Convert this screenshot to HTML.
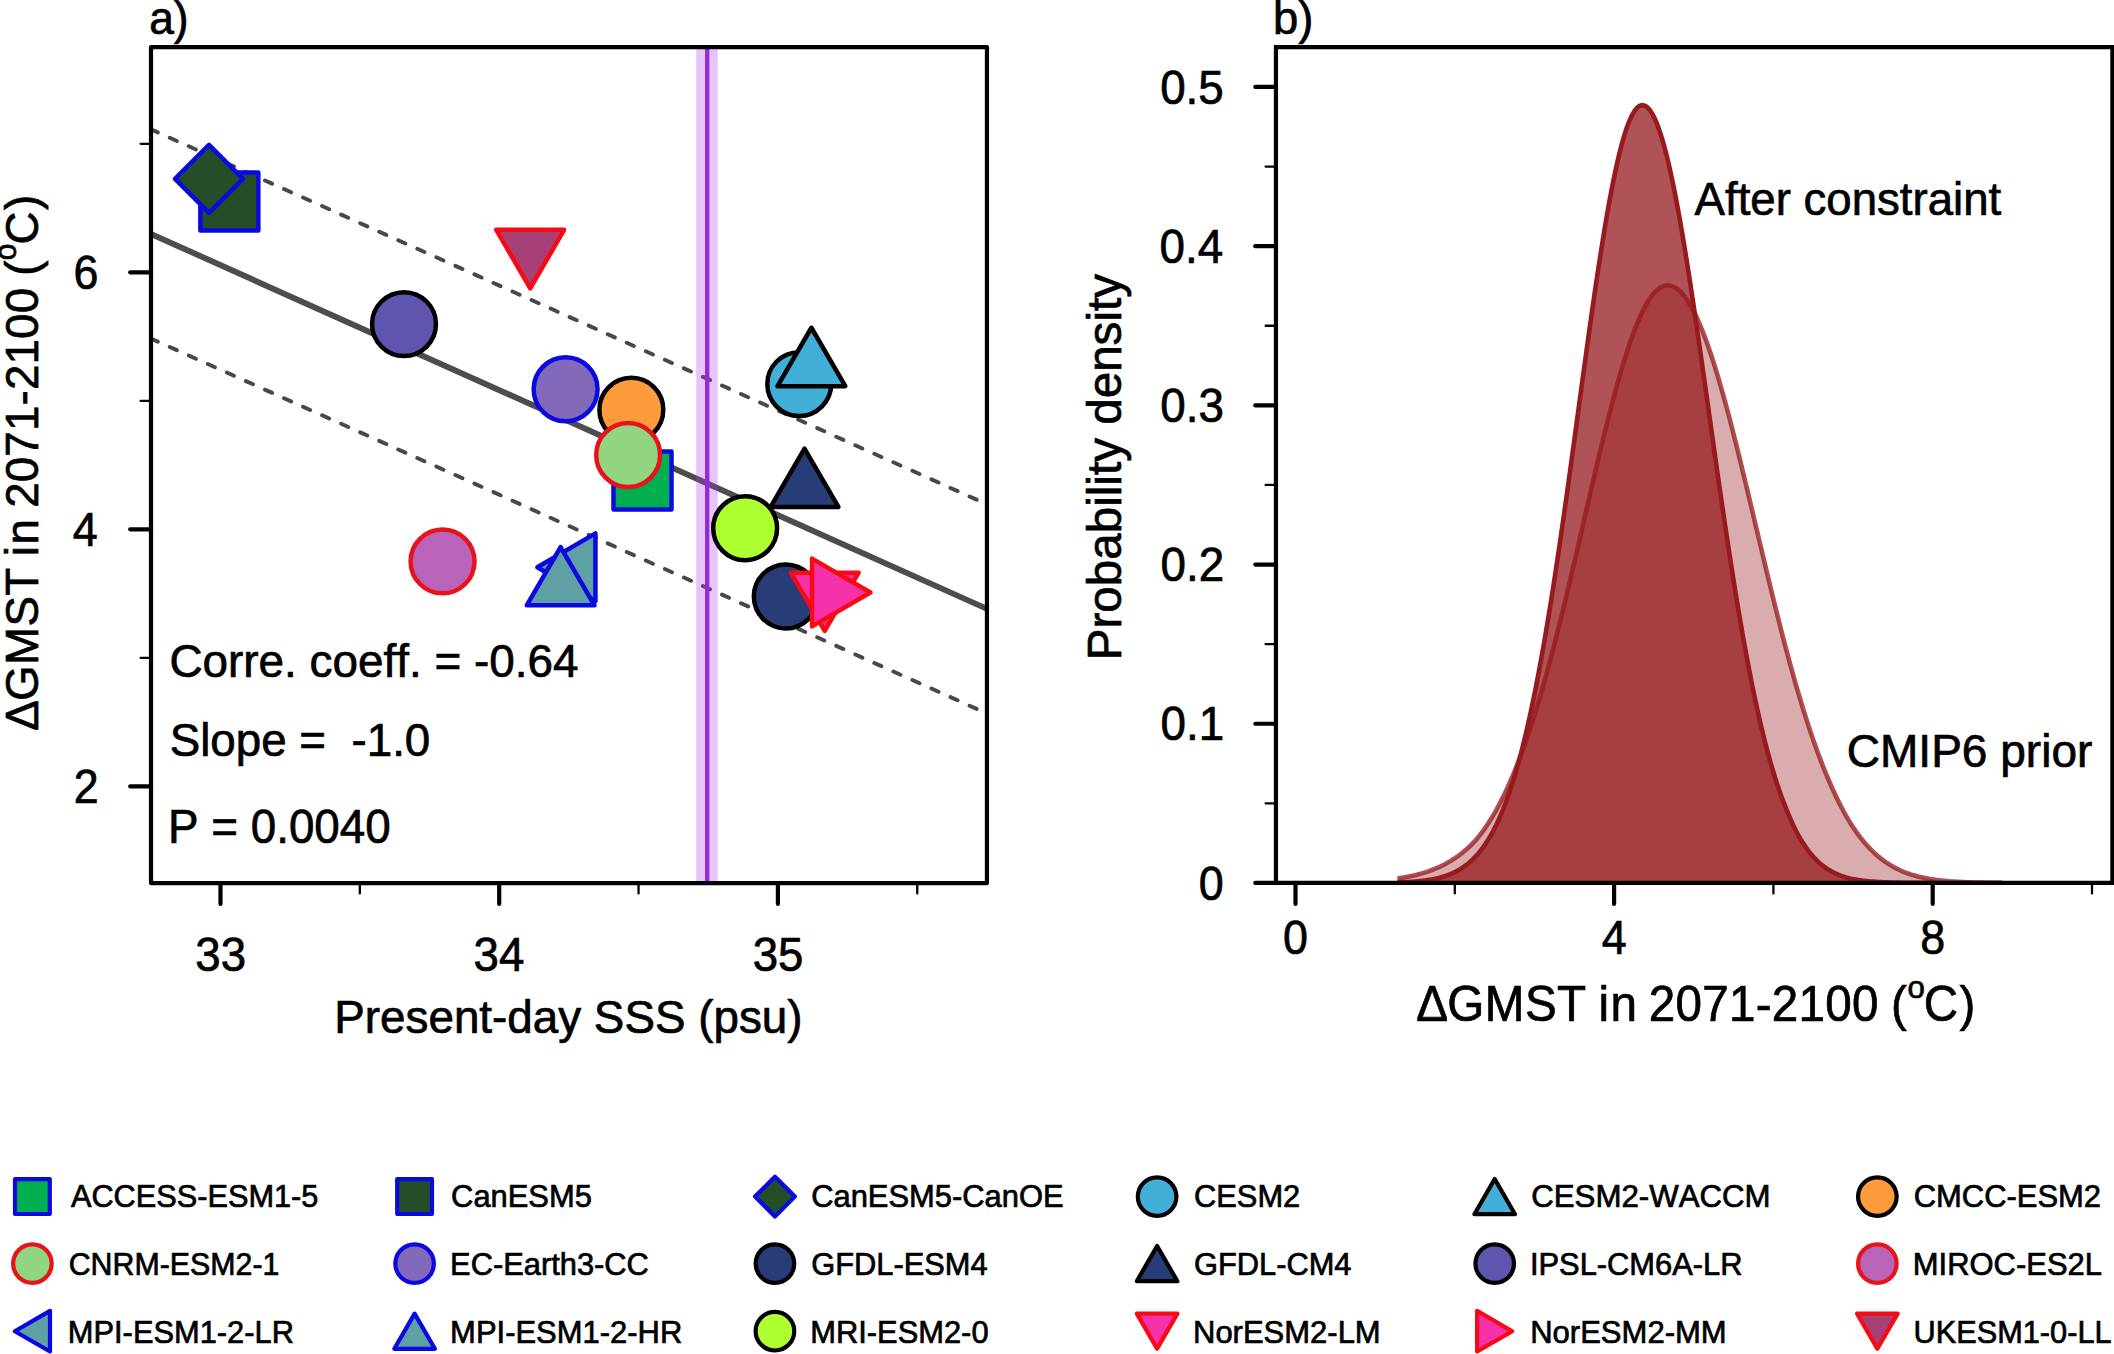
<!DOCTYPE html>
<html lang="en"><head><meta charset="utf-8"><title>Emergent constraint figure</title>
<style>html,body{margin:0;padding:0;background:#fff;}svg{display:block;}text{font-family:"Liberation Sans", sans-serif;fill:#000;font-kerning:none;stroke:#000;stroke-width:0.7px;}</style></head><body>
<svg width="2114" height="1354" viewBox="0 0 2114 1354">
<rect x="0" y="0" width="2114" height="1354" fill="#ffffff"/>
<g id="panel-a">
<clipPath id="clipA"><rect x="151" y="47.1" width="835.95" height="835.95"/></clipPath>
<g clip-path="url(#clipA)">
<line x1="150.7" y1="129.21" x2="984" y2="502.95" stroke="#484848" stroke-width="3.9" stroke-dasharray="7.8 13.07" stroke-linecap="round"/>
<line x1="150.7" y1="338.41" x2="984" y2="712.15" stroke="#484848" stroke-width="3.9" stroke-dasharray="7.8 13.07" stroke-linecap="round"/>
<line x1="146" y1="231.71" x2="991.95" y2="611.11" stroke="#4d4d4d" stroke-width="5.9"/>
</g>
<rect x="696.2" y="47.1" width="21.5" height="835.95" fill="#aa3cf0" fill-opacity="0.30"/>
<line x1="707.2" y1="47.1" x2="707.2" y2="883.05" stroke="#9628dc" stroke-width="4.3"/>
<polygon points="200.35,172.55 258.35,172.55 258.35,230.55 200.35,230.55" fill="#244d28" stroke="#0a0ae0" stroke-width="4.5" stroke-linejoin="round"/>
<polygon points="209,144.95 243,178.95 209,212.95 175,178.95" fill="#244d28" stroke="#0a0ae0" stroke-width="4.5" stroke-linejoin="round"/>
<polygon points="496.3,229.8 564.1,229.8 530.2,288.35" fill="#a84078" stroke="#f80a14" stroke-width="4.5" stroke-linejoin="round"/>
<circle cx="404" cy="324.1" r="31.95" fill="#5f55af" stroke="#000000" stroke-width="4.5"/>
<circle cx="565.6" cy="389.2" r="31.95" fill="#8269b9" stroke="#0a0ae0" stroke-width="4.5"/>
<circle cx="631.35" cy="409.8" r="31.95" fill="#ff9b3c" stroke="#000000" stroke-width="4.5"/>
<polygon points="613.5,451.5 671.5,451.5 671.5,509.5 613.5,509.5" fill="#00af50" stroke="#0a0ae0" stroke-width="4.5" stroke-linejoin="round"/>
<circle cx="628.15" cy="455" r="31.95" fill="#91d482" stroke="#e8121c" stroke-width="4.5"/>
<circle cx="799.25" cy="384.1" r="31.95" fill="#41afd7" stroke="#000000" stroke-width="4.5"/>
<polygon points="811.4,327.75 845.3,386.15 777.5,386.15" fill="#41afd7" stroke="#000000" stroke-width="4.5" stroke-linejoin="round"/>
<polygon points="804.5,448.65 838.4,506.95 770.6,506.95" fill="#283c78" stroke="#000000" stroke-width="4.5" stroke-linejoin="round"/>
<circle cx="745.15" cy="528.2" r="31.95" fill="#adff2f" stroke="#000000" stroke-width="4.5"/>
<circle cx="785.8" cy="596.45" r="31.95" fill="#283c78" stroke="#000000" stroke-width="4.5"/>
<polygon points="790.8,572.65 858.6,572.65 824.7,630.75" fill="#f532aa" stroke="#f80a14" stroke-width="4.5" stroke-linejoin="round"/>
<polygon points="870.45,592.5 812.05,558.6 812.05,626.4" fill="#f532aa" stroke="#f80a14" stroke-width="4.5" stroke-linejoin="round"/>
<circle cx="442.55" cy="561.4" r="31.95" fill="#b964b9" stroke="#e8121c" stroke-width="4.5"/>
<polygon points="537.35,567.3 595.45,533.4 595.45,601.2" fill="#5fa0a4" stroke="#0a0ae0" stroke-width="4.5" stroke-linejoin="round"/>
<polygon points="560.6,547.05 594.5,605.35 526.7,605.35" fill="#5fa0a4" stroke="#0a0ae0" stroke-width="4.5" stroke-linejoin="round"/>
<text transform="translate(169.41 677.2) scale(0.9974 1.0200)" font-size="46">Corre. coeff. = -0.64</text>
<text transform="translate(169.65 755.8) scale(0.9946 1.0200)" font-size="46">Slope =  -1.0</text>
<text transform="translate(168 843.4) scale(0.9954 1.0440)" font-size="46">P = 0.0040</text>
<rect x="151" y="47.1" width="835.95" height="835.95" fill="none" stroke="#000" stroke-width="4.2" stroke-linejoin="round"/>
<line x1="130.2" y1="786.3" x2="151" y2="786.3" stroke="#000" stroke-width="4.2" stroke-linecap="round"/>
<text transform="translate(73.8 802.9) scale(0.9668 1.0440)" font-size="46.3">2</text>
<line x1="130.2" y1="529.3" x2="151" y2="529.3" stroke="#000" stroke-width="4.2" stroke-linecap="round"/>
<text transform="translate(72.78 545.9) scale(0.9700 1.0440)" font-size="46.3">4</text>
<line x1="130.2" y1="272.3" x2="151" y2="272.3" stroke="#000" stroke-width="4.2" stroke-linecap="round"/>
<text transform="translate(73.52 288.9) scale(0.9672 1.0440)" font-size="46.3">6</text>
<line x1="140.6" y1="657.8" x2="151" y2="657.8" stroke="#000" stroke-width="2.3" stroke-linecap="round"/>
<line x1="140.6" y1="400.8" x2="151" y2="400.8" stroke="#000" stroke-width="2.3" stroke-linecap="round"/>
<line x1="140.6" y1="143.8" x2="151" y2="143.8" stroke="#000" stroke-width="2.3" stroke-linecap="round"/>
<line x1="220.5" y1="883.05" x2="220.5" y2="903.9" stroke="#000" stroke-width="4.2" stroke-linecap="round"/>
<text transform="translate(195.27 970.8) scale(0.9853 1.0440)" font-size="46.3">33</text>
<line x1="499.2" y1="883.05" x2="499.2" y2="903.9" stroke="#000" stroke-width="4.2" stroke-linecap="round"/>
<text transform="translate(473.62 970.8) scale(0.9855 1.0440)" font-size="46.3">34</text>
<line x1="777.9" y1="883.05" x2="777.9" y2="903.9" stroke="#000" stroke-width="4.2" stroke-linecap="round"/>
<text transform="translate(752.63 970.8) scale(0.9854 1.0440)" font-size="46.3">35</text>
<line x1="359.85" y1="883.05" x2="359.85" y2="893.4" stroke="#000" stroke-width="2.3" stroke-linecap="round"/>
<line x1="638.55" y1="883.05" x2="638.55" y2="893.4" stroke="#000" stroke-width="2.3" stroke-linecap="round"/>
<line x1="917.25" y1="883.05" x2="917.25" y2="893.4" stroke="#000" stroke-width="2.3" stroke-linecap="round"/>
<text transform="translate(149.19 33.5) scale(0.9637 1.0000)" font-size="46">a)</text>
<text transform="translate(334.29 1032.9) scale(0.9956 1.0150)" font-size="46">Present-day SSS (psu)</text>
<text transform="translate(37.8 730.6) rotate(-90) scale(0.958) scale(1 1.03)" font-size="47.6"><tspan x="-0.1 31.02 68.5 108.6 140.8" y="0">ΔGMST</tspan> <tspan x="182.11 194.24">in</tspan> <tspan x="232.52 259.23 285.94 312.66 339.37 355.46 382.17 408.88 435.6">2071-2100</tspan> <tspan x="474.75">(</tspan><tspan x="491.09" dy="-21.84" font-size="31.18">o</tspan><tspan x="507.37 543.31" dy="21.84">C)</tspan></text>
</g>
<g id="panel-b">
<clipPath id="clipB"><rect x="1275.95" y="47.1" width="838.05" height="837.85"/></clipPath>
<g clip-path="url(#clipB)">
<path d="M1397.45,878.49 L1399.97,878.12 L1402.49,877.71 L1405.01,877.28 L1407.53,876.81 L1410.05,876.3 L1412.57,875.76 L1415.08,875.18 L1417.6,874.55 L1420.12,873.88 L1422.64,873.16 L1425.16,872.39 L1427.68,871.57 L1430.2,870.69 L1432.72,869.74 L1435.24,868.73 L1437.75,867.66 L1440.27,866.51 L1442.79,865.29 L1445.31,863.98 L1447.83,862.59 L1450.35,861.11 L1452.87,859.54 L1455.39,857.87 L1457.91,856.1 L1460.43,854.22 L1462.94,852.22 L1465.46,850.11 L1467.98,847.88 L1470.5,845.51 L1473.02,843.01 L1475.54,840.37 L1478.06,837.41 L1480.58,834.2 L1483.1,830.82 L1485.61,827.25 L1488.13,823.5 L1490.65,819.54 L1493.17,815.39 L1495.69,811.03 L1498.21,806.45 L1500.73,801.66 L1503.25,796.65 L1505.77,791.41 L1508.28,785.95 L1510.8,780.25 L1513.32,774.31 L1515.84,768.14 L1518.36,761.73 L1520.88,755.07 L1523.4,748.18 L1525.92,741.03 L1528.44,733.65 L1530.96,726.03 L1533.47,718.16 L1535.99,710.06 L1538.51,701.73 L1541.03,693.17 L1543.55,684.38 L1546.07,675.38 L1548.59,666.17 L1551.11,656.75 L1553.63,647.14 L1556.14,637.35 L1558.66,627.38 L1561.18,617.24 L1563.7,606.96 L1566.22,596.54 L1568.74,586 L1571.26,575.35 L1573.78,564.61 L1576.3,553.79 L1578.82,542.92 L1581.33,532 L1583.85,521.07 L1586.37,510.13 L1588.89,499.22 L1591.41,488.34 L1593.93,477.53 L1596.45,466.79 L1598.97,456.16 L1601.49,445.66 L1604,435.31 L1606.52,425.13 L1609.04,415.15 L1611.56,405.38 L1614.08,395.85 L1616.6,386.58 L1619.12,377.6 L1621.64,368.93 L1624.16,360.58 L1626.67,352.57 L1629.19,344.94 L1631.71,337.69 L1634.23,330.85 L1636.75,324.43 L1639.27,318.45 L1641.79,312.93 L1644.31,307.88 L1646.83,303.31 L1649.35,299.23 L1651.86,295.66 L1654.38,292.61 L1656.9,290.08 L1659.42,288.08 L1661.94,286.62 L1664.46,285.7 L1666.98,285.32 L1669.5,285.47 L1672.02,286.11 L1674.53,287.23 L1677.05,288.83 L1679.57,290.92 L1682.09,293.48 L1684.61,296.52 L1687.13,300.02 L1689.65,303.98 L1692.17,308.39 L1694.69,313.24 L1697.2,318.53 L1699.72,324.23 L1702.24,330.34 L1704.76,336.84 L1707.28,343.72 L1709.8,350.96 L1712.32,358.55 L1714.84,366.47 L1717.36,374.7 L1719.88,383.23 L1722.39,392.04 L1724.91,401.11 L1727.43,410.41 L1729.95,419.94 L1732.47,429.67 L1734.99,439.57 L1737.51,449.64 L1740.03,459.85 L1742.55,470.18 L1745.06,480.61 L1747.58,491.11 L1750.1,501.69 L1752.62,512.3 L1755.14,522.94 L1757.66,533.58 L1760.18,544.21 L1762.7,554.8 L1765.22,565.35 L1767.73,575.84 L1770.25,586.25 L1772.77,596.56 L1775.29,606.77 L1777.81,616.85 L1780.33,626.79 L1782.85,636.59 L1785.37,646.23 L1787.89,655.7 L1790.41,665 L1792.92,674.1 L1795.44,683.01 L1797.96,691.71 L1800.48,700.21 L1803,708.49 L1805.52,716.55 L1808.04,724.39 L1810.56,732 L1813.08,739.37 L1815.59,746.52 L1818.11,753.43 L1820.63,760.11 L1823.15,766.56 L1825.67,772.77 L1828.19,778.84 L1830.71,784.74 L1833.23,790.41 L1835.75,795.84 L1838.26,801.05 L1840.78,806.02 L1843.3,810.77 L1845.82,815.31 L1848.34,819.62 L1850.86,823.73 L1853.38,827.63 L1855.9,831.33 L1858.42,834.84 L1860.94,838.16 L1863.45,841.3 L1865.97,844.26 L1868.49,847.05 L1871.01,849.68 L1873.53,852.16 L1876.05,854.48 L1878.57,856.65 L1881.09,858.69 L1883.61,860.6 L1886.12,862.38 L1888.64,864.04 L1891.16,865.59 L1893.68,867.03 L1896.2,868.37 L1898.72,869.62 L1901.24,870.77 L1903.76,871.83 L1906.28,872.82 L1908.8,873.73 L1911.31,874.56 L1913.83,875.34 L1916.35,876.04 L1918.87,876.7 L1921.39,877.29 L1923.91,877.84 L1926.43,878.34 L1928.95,878.79 L1931.47,879.21 L1933.98,879.59 L1936.5,879.93 L1939.02,880.25 L1941.54,880.53 L1944.06,880.79 L1946.58,881.02 L1949.1,881.23 L1951.62,881.42 L1954.14,881.59 L1956.65,881.74 L1959.17,881.88 L1961.69,882 L1964.21,882.11 L1966.73,882.21 L1969.25,882.29 L1971.77,882.37 L1974.29,882.44 L1976.81,882.5 L1979.33,882.56 L1981.84,882.61 L1984.36,882.65 L1986.88,882.69 L1989.4,882.72 L1991.92,882.75 L1994.44,882.78 L1996.96,882.8 L1999.48,882.82 L2002,882.84 L2002,882.95 L1397.45,882.95 Z" fill="#961a1e" fill-opacity="0.36" stroke="none"/><path d="M1397.45,878.49 L1399.97,878.12 L1402.49,877.71 L1405.01,877.28 L1407.53,876.81 L1410.05,876.3 L1412.57,875.76 L1415.08,875.18 L1417.6,874.55 L1420.12,873.88 L1422.64,873.16 L1425.16,872.39 L1427.68,871.57 L1430.2,870.69 L1432.72,869.74 L1435.24,868.73 L1437.75,867.66 L1440.27,866.51 L1442.79,865.29 L1445.31,863.98 L1447.83,862.59 L1450.35,861.11 L1452.87,859.54 L1455.39,857.87 L1457.91,856.1 L1460.43,854.22 L1462.94,852.22 L1465.46,850.11 L1467.98,847.88 L1470.5,845.51 L1473.02,843.01 L1475.54,840.37 L1478.06,837.41 L1480.58,834.2 L1483.1,830.82 L1485.61,827.25 L1488.13,823.5 L1490.65,819.54 L1493.17,815.39 L1495.69,811.03 L1498.21,806.45 L1500.73,801.66 L1503.25,796.65 L1505.77,791.41 L1508.28,785.95 L1510.8,780.25 L1513.32,774.31 L1515.84,768.14 L1518.36,761.73 L1520.88,755.07 L1523.4,748.18 L1525.92,741.03 L1528.44,733.65 L1530.96,726.03 L1533.47,718.16 L1535.99,710.06 L1538.51,701.73 L1541.03,693.17 L1543.55,684.38 L1546.07,675.38 L1548.59,666.17 L1551.11,656.75 L1553.63,647.14 L1556.14,637.35 L1558.66,627.38 L1561.18,617.24 L1563.7,606.96 L1566.22,596.54 L1568.74,586 L1571.26,575.35 L1573.78,564.61 L1576.3,553.79 L1578.82,542.92 L1581.33,532 L1583.85,521.07 L1586.37,510.13 L1588.89,499.22 L1591.41,488.34 L1593.93,477.53 L1596.45,466.79 L1598.97,456.16 L1601.49,445.66 L1604,435.31 L1606.52,425.13 L1609.04,415.15 L1611.56,405.38 L1614.08,395.85 L1616.6,386.58 L1619.12,377.6 L1621.64,368.93 L1624.16,360.58 L1626.67,352.57 L1629.19,344.94 L1631.71,337.69 L1634.23,330.85 L1636.75,324.43 L1639.27,318.45 L1641.79,312.93 L1644.31,307.88 L1646.83,303.31 L1649.35,299.23 L1651.86,295.66 L1654.38,292.61 L1656.9,290.08 L1659.42,288.08 L1661.94,286.62 L1664.46,285.7 L1666.98,285.32 L1669.5,285.47 L1672.02,286.11 L1674.53,287.23 L1677.05,288.83 L1679.57,290.92 L1682.09,293.48 L1684.61,296.52 L1687.13,300.02 L1689.65,303.98 L1692.17,308.39 L1694.69,313.24 L1697.2,318.53 L1699.72,324.23 L1702.24,330.34 L1704.76,336.84 L1707.28,343.72 L1709.8,350.96 L1712.32,358.55 L1714.84,366.47 L1717.36,374.7 L1719.88,383.23 L1722.39,392.04 L1724.91,401.11 L1727.43,410.41 L1729.95,419.94 L1732.47,429.67 L1734.99,439.57 L1737.51,449.64 L1740.03,459.85 L1742.55,470.18 L1745.06,480.61 L1747.58,491.11 L1750.1,501.69 L1752.62,512.3 L1755.14,522.94 L1757.66,533.58 L1760.18,544.21 L1762.7,554.8 L1765.22,565.35 L1767.73,575.84 L1770.25,586.25 L1772.77,596.56 L1775.29,606.77 L1777.81,616.85 L1780.33,626.79 L1782.85,636.59 L1785.37,646.23 L1787.89,655.7 L1790.41,665 L1792.92,674.1 L1795.44,683.01 L1797.96,691.71 L1800.48,700.21 L1803,708.49 L1805.52,716.55 L1808.04,724.39 L1810.56,732 L1813.08,739.37 L1815.59,746.52 L1818.11,753.43 L1820.63,760.11 L1823.15,766.56 L1825.67,772.77 L1828.19,778.84 L1830.71,784.74 L1833.23,790.41 L1835.75,795.84 L1838.26,801.05 L1840.78,806.02 L1843.3,810.77 L1845.82,815.31 L1848.34,819.62 L1850.86,823.73 L1853.38,827.63 L1855.9,831.33 L1858.42,834.84 L1860.94,838.16 L1863.45,841.3 L1865.97,844.26 L1868.49,847.05 L1871.01,849.68 L1873.53,852.16 L1876.05,854.48 L1878.57,856.65 L1881.09,858.69 L1883.61,860.6 L1886.12,862.38 L1888.64,864.04 L1891.16,865.59 L1893.68,867.03 L1896.2,868.37 L1898.72,869.62 L1901.24,870.77 L1903.76,871.83 L1906.28,872.82 L1908.8,873.73 L1911.31,874.56 L1913.83,875.34 L1916.35,876.04 L1918.87,876.7 L1921.39,877.29 L1923.91,877.84 L1926.43,878.34 L1928.95,878.79 L1931.47,879.21 L1933.98,879.59 L1936.5,879.93 L1939.02,880.25 L1941.54,880.53 L1944.06,880.79 L1946.58,881.02 L1949.1,881.23 L1951.62,881.42 L1954.14,881.59 L1956.65,881.74 L1959.17,881.88 L1961.69,882 L1964.21,882.11 L1966.73,882.21 L1969.25,882.29 L1971.77,882.37 L1974.29,882.44 L1976.81,882.5 L1979.33,882.56 L1981.84,882.61 L1984.36,882.65 L1986.88,882.69 L1989.4,882.72 L1991.92,882.75 L1994.44,882.78 L1996.96,882.8 L1999.48,882.82 L2002,882.84" fill="none" stroke="#961a1e" stroke-opacity="0.77" stroke-width="4.6" stroke-linejoin="round" stroke-linecap="butt"/>
<path d="M1397.45,882.42 L1399.97,882.34 L1402.49,882.24 L1405.01,882.13 L1407.53,882 L1410.05,881.85 L1412.57,881.69 L1415.08,881.5 L1417.6,881.28 L1420.12,881.04 L1422.64,880.76 L1425.16,880.45 L1427.68,880.09 L1430.2,879.69 L1432.72,879.24 L1435.24,878.74 L1437.75,878.17 L1440.27,877.54 L1442.79,876.83 L1445.31,876.04 L1447.83,875.16 L1450.35,874.18 L1452.87,873.09 L1455.39,871.88 L1457.91,870.55 L1460.43,869.07 L1462.94,867.45 L1465.46,865.66 L1467.98,863.7 L1470.5,861.54 L1473.02,859.18 L1475.54,856.6 L1478.06,853.79 L1480.58,850.73 L1483.1,847.4 L1485.61,843.78 L1488.13,839.87 L1490.65,835.63 L1493.17,831.07 L1495.69,826.14 L1498.21,820.85 L1500.73,815.17 L1503.25,809.08 L1505.77,802.56 L1508.28,795.61 L1510.8,788.21 L1513.32,780.33 L1515.84,771.98 L1518.36,763.12 L1520.88,753.76 L1523.4,743.89 L1525.92,733.49 L1528.44,722.56 L1530.96,711.09 L1533.47,699.09 L1535.99,686.56 L1538.51,673.49 L1541.03,659.9 L1543.55,645.79 L1546.07,631.18 L1548.59,616.09 L1551.11,600.52 L1553.63,584.51 L1556.14,568.07 L1558.66,551.24 L1561.18,534.05 L1563.7,516.54 L1566.22,498.74 L1568.74,480.7 L1571.26,462.46 L1573.78,444.07 L1576.3,425.59 L1578.82,407.06 L1581.33,388.54 L1583.85,370.09 L1586.37,351.78 L1588.89,333.66 L1591.41,315.8 L1593.93,298.26 L1596.45,281.11 L1598.97,264.41 L1601.49,248.23 L1604,232.63 L1606.52,217.67 L1609.04,203.42 L1611.56,189.93 L1614.08,177.27 L1616.6,165.48 L1619.12,154.62 L1621.64,144.74 L1624.16,135.88 L1626.67,128.07 L1629.19,121.37 L1631.71,115.78 L1634.23,111.35 L1636.75,108.09 L1639.27,106.01 L1641.79,105.13 L1644.31,105.43 L1646.83,106.85 L1649.35,109.38 L1651.86,113.01 L1654.38,117.73 L1656.9,123.52 L1659.42,130.35 L1661.94,138.19 L1664.46,147.01 L1666.98,156.78 L1669.5,167.44 L1672.02,178.97 L1674.53,191.31 L1677.05,204.41 L1679.57,218.22 L1682.09,232.68 L1684.61,247.75 L1687.13,263.37 L1689.65,279.47 L1692.17,296 L1694.69,312.89 L1697.2,330.1 L1699.72,347.56 L1702.24,365.22 L1704.76,383.02 L1707.28,400.9 L1709.8,418.8 L1712.32,436.69 L1714.84,454.51 L1717.36,472.21 L1719.88,489.74 L1722.39,507.07 L1724.91,524.15 L1727.43,540.95 L1729.95,557.43 L1732.47,573.56 L1734.99,589.32 L1737.51,604.67 L1740.03,619.61 L1742.55,634.1 L1745.06,648.13 L1747.58,661.69 L1750.1,674.77 L1752.62,687.35 L1755.14,699.44 L1757.66,711.03 L1760.18,722.12 L1762.7,732.72 L1765.22,742.81 L1767.73,752.42 L1770.25,761.54 L1772.77,770.19 L1775.29,778.37 L1777.81,786.1 L1780.33,793.39 L1782.85,800.25 L1785.37,806.69 L1787.89,813.02 L1790.41,818.98 L1792.92,824.54 L1795.44,829.71 L1797.96,834.51 L1800.48,838.96 L1803,843.08 L1805.52,846.87 L1808.04,850.37 L1810.56,853.58 L1813.08,856.53 L1815.59,859.22 L1818.11,861.68 L1820.63,863.93 L1823.15,865.96 L1825.67,867.81 L1828.19,869.49 L1830.71,871 L1833.23,872.36 L1835.75,873.59 L1838.26,874.69 L1840.78,875.68 L1843.3,876.56 L1845.82,877.35 L1848.34,878.04 L1850.86,878.64 L1853.38,879.15 L1855.9,879.61 L1858.42,880.01 L1860.94,880.37 L1863.45,880.69 L1865.97,880.98 L1868.49,881.23 L1871.01,881.45 L1873.53,881.64 L1876.05,881.81 L1878.57,881.96 L1881.09,882.09 L1883.61,882.21 L1886.12,882.31 L1888.64,882.4 L1891.16,882.47 L1893.68,882.54 L1896.2,882.6 L1898.72,882.65 L1901.24,882.69 L1903.76,882.73 L1906.28,882.76 L1908.8,882.79 L1911.31,882.81 L1913.83,882.83 L1916.35,882.85 L1918.87,882.87 L1921.39,882.88 L1923.91,882.89 L1926.43,882.9 L1928.95,882.91 L1931.47,882.91 L1933.98,882.92 L1936.5,882.92 L1939.02,882.93 L1941.54,882.93 L1944.06,882.94 L1946.58,882.94 L1949.1,882.94 L1951.62,882.94 L1954.14,882.94 L1956.65,882.94 L1959.17,882.95 L1961.69,882.95 L1964.21,882.95 L1966.73,882.95 L1969.25,882.95 L1971.77,882.95 L1974.29,882.95 L1976.81,882.95 L1979.33,882.95 L1981.84,882.95 L1984.36,882.95 L1986.88,882.95 L1989.4,882.95 L1991.92,882.95 L1994.44,882.95 L1996.96,882.95 L1999.48,882.95 L2002,882.95 L2002,882.95 L1397.45,882.95 Z" fill="#961a1e" fill-opacity="0.75" stroke="none"/><path d="M1397.45,882.42 L1399.97,882.34 L1402.49,882.24 L1405.01,882.13 L1407.53,882 L1410.05,881.85 L1412.57,881.69 L1415.08,881.5 L1417.6,881.28 L1420.12,881.04 L1422.64,880.76 L1425.16,880.45 L1427.68,880.09 L1430.2,879.69 L1432.72,879.24 L1435.24,878.74 L1437.75,878.17 L1440.27,877.54 L1442.79,876.83 L1445.31,876.04 L1447.83,875.16 L1450.35,874.18 L1452.87,873.09 L1455.39,871.88 L1457.91,870.55 L1460.43,869.07 L1462.94,867.45 L1465.46,865.66 L1467.98,863.7 L1470.5,861.54 L1473.02,859.18 L1475.54,856.6 L1478.06,853.79 L1480.58,850.73 L1483.1,847.4 L1485.61,843.78 L1488.13,839.87 L1490.65,835.63 L1493.17,831.07 L1495.69,826.14 L1498.21,820.85 L1500.73,815.17 L1503.25,809.08 L1505.77,802.56 L1508.28,795.61 L1510.8,788.21 L1513.32,780.33 L1515.84,771.98 L1518.36,763.12 L1520.88,753.76 L1523.4,743.89 L1525.92,733.49 L1528.44,722.56 L1530.96,711.09 L1533.47,699.09 L1535.99,686.56 L1538.51,673.49 L1541.03,659.9 L1543.55,645.79 L1546.07,631.18 L1548.59,616.09 L1551.11,600.52 L1553.63,584.51 L1556.14,568.07 L1558.66,551.24 L1561.18,534.05 L1563.7,516.54 L1566.22,498.74 L1568.74,480.7 L1571.26,462.46 L1573.78,444.07 L1576.3,425.59 L1578.82,407.06 L1581.33,388.54 L1583.85,370.09 L1586.37,351.78 L1588.89,333.66 L1591.41,315.8 L1593.93,298.26 L1596.45,281.11 L1598.97,264.41 L1601.49,248.23 L1604,232.63 L1606.52,217.67 L1609.04,203.42 L1611.56,189.93 L1614.08,177.27 L1616.6,165.48 L1619.12,154.62 L1621.64,144.74 L1624.16,135.88 L1626.67,128.07 L1629.19,121.37 L1631.71,115.78 L1634.23,111.35 L1636.75,108.09 L1639.27,106.01 L1641.79,105.13 L1644.31,105.43 L1646.83,106.85 L1649.35,109.38 L1651.86,113.01 L1654.38,117.73 L1656.9,123.52 L1659.42,130.35 L1661.94,138.19 L1664.46,147.01 L1666.98,156.78 L1669.5,167.44 L1672.02,178.97 L1674.53,191.31 L1677.05,204.41 L1679.57,218.22 L1682.09,232.68 L1684.61,247.75 L1687.13,263.37 L1689.65,279.47 L1692.17,296 L1694.69,312.89 L1697.2,330.1 L1699.72,347.56 L1702.24,365.22 L1704.76,383.02 L1707.28,400.9 L1709.8,418.8 L1712.32,436.69 L1714.84,454.51 L1717.36,472.21 L1719.88,489.74 L1722.39,507.07 L1724.91,524.15 L1727.43,540.95 L1729.95,557.43 L1732.47,573.56 L1734.99,589.32 L1737.51,604.67 L1740.03,619.61 L1742.55,634.1 L1745.06,648.13 L1747.58,661.69 L1750.1,674.77 L1752.62,687.35 L1755.14,699.44 L1757.66,711.03 L1760.18,722.12 L1762.7,732.72 L1765.22,742.81 L1767.73,752.42 L1770.25,761.54 L1772.77,770.19 L1775.29,778.37 L1777.81,786.1 L1780.33,793.39 L1782.85,800.25 L1785.37,806.69 L1787.89,813.02 L1790.41,818.98 L1792.92,824.54 L1795.44,829.71 L1797.96,834.51 L1800.48,838.96 L1803,843.08 L1805.52,846.87 L1808.04,850.37 L1810.56,853.58 L1813.08,856.53 L1815.59,859.22 L1818.11,861.68 L1820.63,863.93 L1823.15,865.96 L1825.67,867.81 L1828.19,869.49 L1830.71,871 L1833.23,872.36 L1835.75,873.59 L1838.26,874.69 L1840.78,875.68 L1843.3,876.56 L1845.82,877.35 L1848.34,878.04 L1850.86,878.64 L1853.38,879.15 L1855.9,879.61 L1858.42,880.01 L1860.94,880.37 L1863.45,880.69 L1865.97,880.98 L1868.49,881.23 L1871.01,881.45 L1873.53,881.64 L1876.05,881.81 L1878.57,881.96 L1881.09,882.09 L1883.61,882.21 L1886.12,882.31 L1888.64,882.4 L1891.16,882.47 L1893.68,882.54 L1896.2,882.6 L1898.72,882.65 L1901.24,882.69 L1903.76,882.73 L1906.28,882.76 L1908.8,882.79 L1911.31,882.81 L1913.83,882.83 L1916.35,882.85 L1918.87,882.87 L1921.39,882.88 L1923.91,882.89 L1926.43,882.9 L1928.95,882.91 L1931.47,882.91 L1933.98,882.92 L1936.5,882.92 L1939.02,882.93 L1941.54,882.93 L1944.06,882.94 L1946.58,882.94 L1949.1,882.94 L1951.62,882.94 L1954.14,882.94 L1956.65,882.94 L1959.17,882.95 L1961.69,882.95 L1964.21,882.95 L1966.73,882.95 L1969.25,882.95 L1971.77,882.95 L1974.29,882.95 L1976.81,882.95 L1979.33,882.95 L1981.84,882.95 L1984.36,882.95 L1986.88,882.95 L1989.4,882.95 L1991.92,882.95 L1994.44,882.95 L1996.96,882.95 L1999.48,882.95 L2002,882.95" fill="none" stroke="#961a1e" stroke-opacity="1.0" stroke-width="4.6" stroke-linejoin="round" stroke-linecap="butt"/>
</g>
<text transform="translate(1694.56 214.6) scale(0.9915 1.0050)" font-size="46">After constraint</text>
<text transform="translate(1846.8 767.2) scale(1.0009 1.0250)" font-size="46">CMIP6 prior</text>
<path d="M1255.3,882.95 H2112.4 V47.1 H1275.95 V882.95" fill="none" stroke="#000" stroke-width="4.2" stroke-linecap="round" stroke-linejoin="miter"/>
<text transform="translate(1198.67 899.85) scale(0.9684 1.0440)" font-size="46.3">0</text>
<line x1="1255.3" y1="723.75" x2="1275.95" y2="723.75" stroke="#000" stroke-width="4.2" stroke-linecap="round"/>
<text transform="translate(1160.48 740.35) scale(0.9884 1.0440)" font-size="46.3">0.1</text>
<line x1="1255.3" y1="564.55" x2="1275.95" y2="564.55" stroke="#000" stroke-width="4.2" stroke-linecap="round"/>
<text transform="translate(1160.53 581.15) scale(0.9884 1.0440)" font-size="46.3">0.2</text>
<line x1="1255.3" y1="405.35" x2="1275.95" y2="405.35" stroke="#000" stroke-width="4.2" stroke-linecap="round"/>
<text transform="translate(1160.25 421.95) scale(0.9884 1.0440)" font-size="46.3">0.3</text>
<line x1="1255.3" y1="246.15" x2="1275.95" y2="246.15" stroke="#000" stroke-width="4.2" stroke-linecap="round"/>
<text transform="translate(1159.56 262.75) scale(0.9886 1.0440)" font-size="46.3">0.4</text>
<line x1="1255.3" y1="86.95" x2="1275.95" y2="86.95" stroke="#000" stroke-width="4.2" stroke-linecap="round"/>
<text transform="translate(1160.16 103.55) scale(0.9885 1.0440)" font-size="46.3">0.5</text>
<line x1="1265.6" y1="803.35" x2="1275.95" y2="803.35" stroke="#000" stroke-width="2.3" stroke-linecap="round"/>
<line x1="1265.6" y1="644.15" x2="1275.95" y2="644.15" stroke="#000" stroke-width="2.3" stroke-linecap="round"/>
<line x1="1265.6" y1="484.95" x2="1275.95" y2="484.95" stroke="#000" stroke-width="2.3" stroke-linecap="round"/>
<line x1="1265.6" y1="325.75" x2="1275.95" y2="325.75" stroke="#000" stroke-width="2.3" stroke-linecap="round"/>
<line x1="1265.6" y1="166.55" x2="1275.95" y2="166.55" stroke="#000" stroke-width="2.3" stroke-linecap="round"/>
<line x1="1295.5" y1="882.95" x2="1295.5" y2="903.9" stroke="#000" stroke-width="4.2" stroke-linecap="round"/>
<text transform="translate(1283.04 954.2) scale(0.9684 1.0440)" font-size="46.3">0</text>
<line x1="1614.1" y1="882.95" x2="1614.1" y2="903.9" stroke="#000" stroke-width="4.2" stroke-linecap="round"/>
<text transform="translate(1601.75 954.2) scale(0.9700 1.0440)" font-size="46.3">4</text>
<line x1="1932.7" y1="882.95" x2="1932.7" y2="903.9" stroke="#000" stroke-width="4.2" stroke-linecap="round"/>
<text transform="translate(1920.24 954.2) scale(0.9678 1.0440)" font-size="46.3">8</text>
<line x1="1454.8" y1="882.95" x2="1454.8" y2="893.4" stroke="#000" stroke-width="2.3" stroke-linecap="round"/>
<line x1="1773.4" y1="882.95" x2="1773.4" y2="893.4" stroke="#000" stroke-width="2.3" stroke-linecap="round"/>
<line x1="2092" y1="882.95" x2="2092" y2="893.4" stroke="#000" stroke-width="2.3" stroke-linecap="round"/>
<text transform="translate(1273.05 33.5) scale(0.9871 1.0000)" font-size="46">b)</text>
<text transform="translate(1416.3 1020.9) scale(1 1.03)" font-size="47.6"><tspan x="-0.1 31.02 68.5 108.6 140.8" y="0">ΔGMST</tspan> <tspan x="182.11 194.24">in</tspan> <tspan x="232.52 259.23 285.94 312.66 339.37 355.46 382.17 408.88 435.6">2071-2100</tspan> <tspan x="474.75">(</tspan><tspan x="491.09" dy="-21.84" font-size="31.18">o</tspan><tspan x="507.37 543.31" dy="21.84">C)</tspan></text>
<text transform="translate(1121.1 660.36) rotate(-90) scale(1.0006 1.0050)" font-size="47.6">Probability density</text>
</g>
<g id="legend">
<polygon points="15,1179.2 49.8,1179.2 49.8,1214 15,1214" fill="#00af50" stroke="#0a0ae0" stroke-width="4.2" stroke-linejoin="round"/>
<text transform="translate(70.89 1207.3) scale(0.9914 1.0400)" font-size="31">ACCESS-ESM1-5</text>
<polygon points="397.2,1179.2 432,1179.2 432,1214 397.2,1214" fill="#244d28" stroke="#0a0ae0" stroke-width="4.2" stroke-linejoin="round"/>
<text transform="translate(451.07 1207.3) scale(0.9970 1.0300)" font-size="31">CanESM5</text>
<polygon points="774.95,1176.7 794.85,1196.6 774.95,1216.5 755.05,1196.6" fill="#244d28" stroke="#0a0ae0" stroke-width="4.2" stroke-linejoin="round"/>
<text transform="translate(811.17 1207.3) scale(0.9970 1.0300)" font-size="31">CanESM5-CanOE</text>
<circle cx="1157.1" cy="1196.6" r="19.3" fill="#41afd7" stroke="#000000" stroke-width="4.2"/>
<text transform="translate(1193.98 1207.3) scale(0.9955 1.0400)" font-size="31">CESM2</text>
<polygon points="1494.7,1179 1515,1214.2 1474.4,1214.2" fill="#41afd7" stroke="#000000" stroke-width="4.2" stroke-linejoin="round"/>
<text transform="translate(1531.16 1207.3) scale(1.0078 1.0400)" font-size="31">CESM2-WACCM</text>
<circle cx="1877.35" cy="1196.6" r="19.3" fill="#ff9b3c" stroke="#000000" stroke-width="4.2"/>
<text transform="translate(1913.77 1207.3) scale(0.9978 1.0400)" font-size="31">CMCC-ESM2</text>
<circle cx="32.4" cy="1263.6" r="19.3" fill="#91d482" stroke="#e8121c" stroke-width="4.2"/>
<text transform="translate(68.7 1274.9) scale(0.9788 1.0400)" font-size="31">CNRM-ESM2-1</text>
<circle cx="414.6" cy="1263.6" r="19.3" fill="#8269b9" stroke="#0a0ae0" stroke-width="4.2"/>
<text transform="translate(450.12 1274.9) scale(0.9954 1.0300)" font-size="31">EC-Earth3-CC</text>
<circle cx="774.95" cy="1263.6" r="19.3" fill="#283c78" stroke="#000000" stroke-width="4.2"/>
<text transform="translate(811.21 1274.9) scale(0.9945 1.0400)" font-size="31">GFDL-ESM4</text>
<polygon points="1157.1,1246 1177.4,1281.2 1136.8,1281.2" fill="#283c78" stroke="#000000" stroke-width="4.2" stroke-linejoin="round"/>
<text transform="translate(1194.01 1274.9) scale(0.9943 1.0400)" font-size="31">GFDL-CM4</text>
<circle cx="1494.7" cy="1263.6" r="19.3" fill="#5f55af" stroke="#000000" stroke-width="4.2"/>
<text transform="translate(1529.91 1274.9) scale(0.9961 1.0400)" font-size="31">IPSL-CM6A-LR</text>
<circle cx="1877.35" cy="1263.6" r="19.3" fill="#b964b9" stroke="#e8121c" stroke-width="4.2"/>
<text transform="translate(1912.81 1274.9) scale(0.9989 1.0400)" font-size="31">MIROC-ES2L</text>
<polygon points="14.8,1331.2 50,1310.9 50,1351.5" fill="#5fa0a4" stroke="#0a0ae0" stroke-width="4.2" stroke-linejoin="round"/>
<text transform="translate(67.82 1342.5) scale(0.9948 1.0400)" font-size="31">MPI-ESM1-2-LR</text>
<polygon points="414.6,1313.6 434.9,1348.8 394.3,1348.8" fill="#5fa0a4" stroke="#0a0ae0" stroke-width="4.2" stroke-linejoin="round"/>
<text transform="translate(450.11 1342.5) scale(0.9987 1.0400)" font-size="31">MPI-ESM1-2-HR</text>
<circle cx="774.95" cy="1331.2" r="19.3" fill="#adff2f" stroke="#000000" stroke-width="4.2"/>
<text transform="translate(810.22 1342.5) scale(0.9962 1.0400)" font-size="31">MRI-ESM2-0</text>
<polygon points="1136.8,1313.6 1177.4,1313.6 1157.1,1348.8" fill="#f532aa" stroke="#f80a14" stroke-width="4.2" stroke-linejoin="round"/>
<text transform="translate(1193.01 1342.5) scale(1.0001 1.0300)" font-size="31">NorESM2-LM</text>
<polygon points="1512.3,1331.2 1477.1,1310.9 1477.1,1351.5" fill="#f532aa" stroke="#f80a14" stroke-width="4.2" stroke-linejoin="round"/>
<text transform="translate(1530.2 1342.5) scale(1.0012 1.0300)" font-size="31">NorESM2-MM</text>
<polygon points="1857.05,1313.6 1897.65,1313.6 1877.35,1348.8" fill="#a84078" stroke="#f80a14" stroke-width="4.2" stroke-linejoin="round"/>
<text transform="translate(1913.48 1342.5) scale(0.9916 1.0400)" font-size="31">UKESM1-0-LL</text>
</g>
</svg></body></html>
